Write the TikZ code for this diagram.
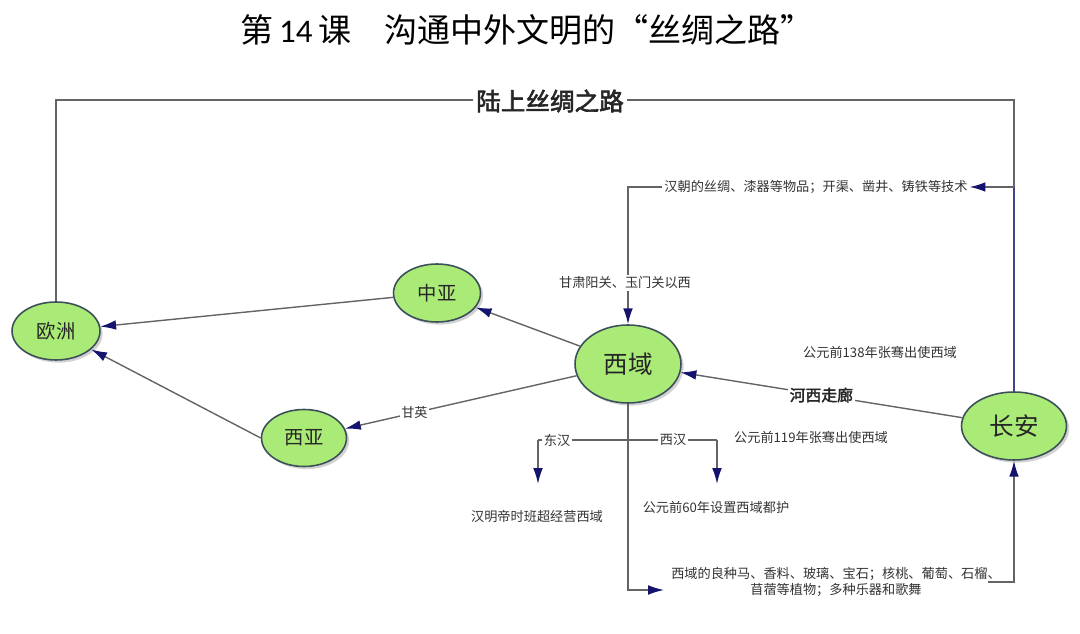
\documentclass[tikz,border=0pt]{standalone}
\usepackage{fontspec}
\setmainfont{Noto Sans CJK SC}
\newfontfamily\cjkb[FakeBold=2.5]{Noto Sans CJK SC}
\newfontfamily\numfont{Carlito}
\usetikzlibrary{shapes.geometric,arrows.meta,shadows}
\definecolor{nodegreen}{RGB}{170,234,118}
\definecolor{nodeedge}{RGB}{60,80,90}
\definecolor{linegray}{RGB}{100,100,100}
\definecolor{arrnavy}{RGB}{20,20,110}
\tikzset{
  ell/.style={ellipse, draw=nodeedge, line width=0.9pt, fill=nodegreen, inner sep=0pt,
    drop shadow={shadow xshift=1.5pt, shadow yshift=-1.5pt, fill=black!35}, text=black!85},
  line/.style={draw=linegray, line width=0.8pt},
  navyline/.style={draw=arrnavy!80, line width=1pt},
  arr/.style={line, -{Latex[length=9pt,width=5.5pt,color=arrnavy]}},
  small/.style={font=\fontsize{7.5}{9}\selectfont, text=black!80, inner sep=1pt},
  lbl/.style={small, fill=white},
}
\begin{document}
\begin{tikzpicture}[x=0.02cm, y=-0.02cm]
\useasboundingbox (0,0) rectangle (1080,634);
% title
\node (title) at (527,30) {\fontsize{18.8}{20}\selectfont 第\,{\numfont 14}\,课\hspace{1em}沟通中外文明的“丝绸之路”};
% nodes
\node[ell, minimum width=1.76cm, minimum height=1.16cm] (ou) at (56,331) {\fontsize{11}{12}\selectfont 欧洲};
\node[ell, minimum width=1.74cm, minimum height=1.16cm] (zy) at (437,293) {\fontsize{11}{12}\selectfont 中亚};
\node[ell, minimum width=1.70cm, minimum height=1.14cm] (xy) at (304,438) {\fontsize{11}{12}\selectfont 西亚};
\node[ell, minimum width=2.12cm, minimum height=1.56cm] (xyu) at (628,364) {\fontsize{14}{15}\selectfont 西域};
\node[ell, minimum width=2.10cm, minimum height=1.36cm] (ca) at (1014,426) {\fontsize{14}{15}\selectfont 长安};
% land silk road
\coordinate (tl) at (56,100);
\coordinate (tr) at (1014,100);
\coordinate (hr) at (1014,187);
\draw[line] (ou.north) -- (tl) -- (tr) -- (hr);
\draw[navyline] (hr) -- (ca.north);
\node[fill=white, inner sep=2pt, font=\cjkb\fontsize{14}{15}\selectfont, text=black!85] (land) at (550,101) {陆上丝绸之路};
% Han goods to western regions
\node[small] (han) at (816,187) {汉朝的丝绸、漆器等物品；开渠、凿井、铸铁等技术};
\draw[arr] (hr) -- (han.east);
\draw[arr] (han.west) -| (xyu.north);
\node[lbl] (gs) at (625,283) {甘肃阳关、玉门关以西};
% routes west
\draw[arr] (xyu) -- (zy);
\draw[arr] (zy) -- (ou);
\draw[arr] (xy.west) -- (ou);
\draw[arr] (xyu) -- (xy) node[lbl, pos=0.7] (gy) {甘英};
\draw[arr] (ca) -- (xyu) node[pos=0.5, fill=white, inner sep=1pt, font=\cjkb\fontsize{9}{10}\selectfont, text=black!85] (hx) {河西走廊};
\node[small] (zq1) at (880,352) {公元前138年张骞出使西域};
\node[small] (zq2) at (811,437) {公元前119年张骞出使西域};
% products back to Chang'an
\node[small, align=center] (goods) at (836,582) {西域的良种马、香料、玻璃、宝石；核桃、葡萄、石榴、\\苜蓿等植物；多种乐器和歌舞};
\coordinate (gl) at (664,590);
\coordinate (gr) at (988,582);
\draw[arr] (xyu.south) |- (gl);
\draw[arr] (gr) -| (ca.south);
% Han dynasties branch
\coordinate (bl) at (538,440);
\coordinate (br) at (717,440);
\coordinate (blt) at (538,484);
\coordinate (brt) at (717,484);
\draw[line] (bl) -- (br);
\draw[arr] (bl) -- (blt);
\draw[arr] (br) -- (brt);
\node[lbl] (dh) at (557,440) {东汉};
\node[lbl] (xh) at (673,440) {西汉};
\node[small] (dht) at (537,517) {汉明帝时班超经营西域};
\node[small] (xht) at (716,507) {公元前60年设置西域都护};
\end{tikzpicture}
\end{document}
